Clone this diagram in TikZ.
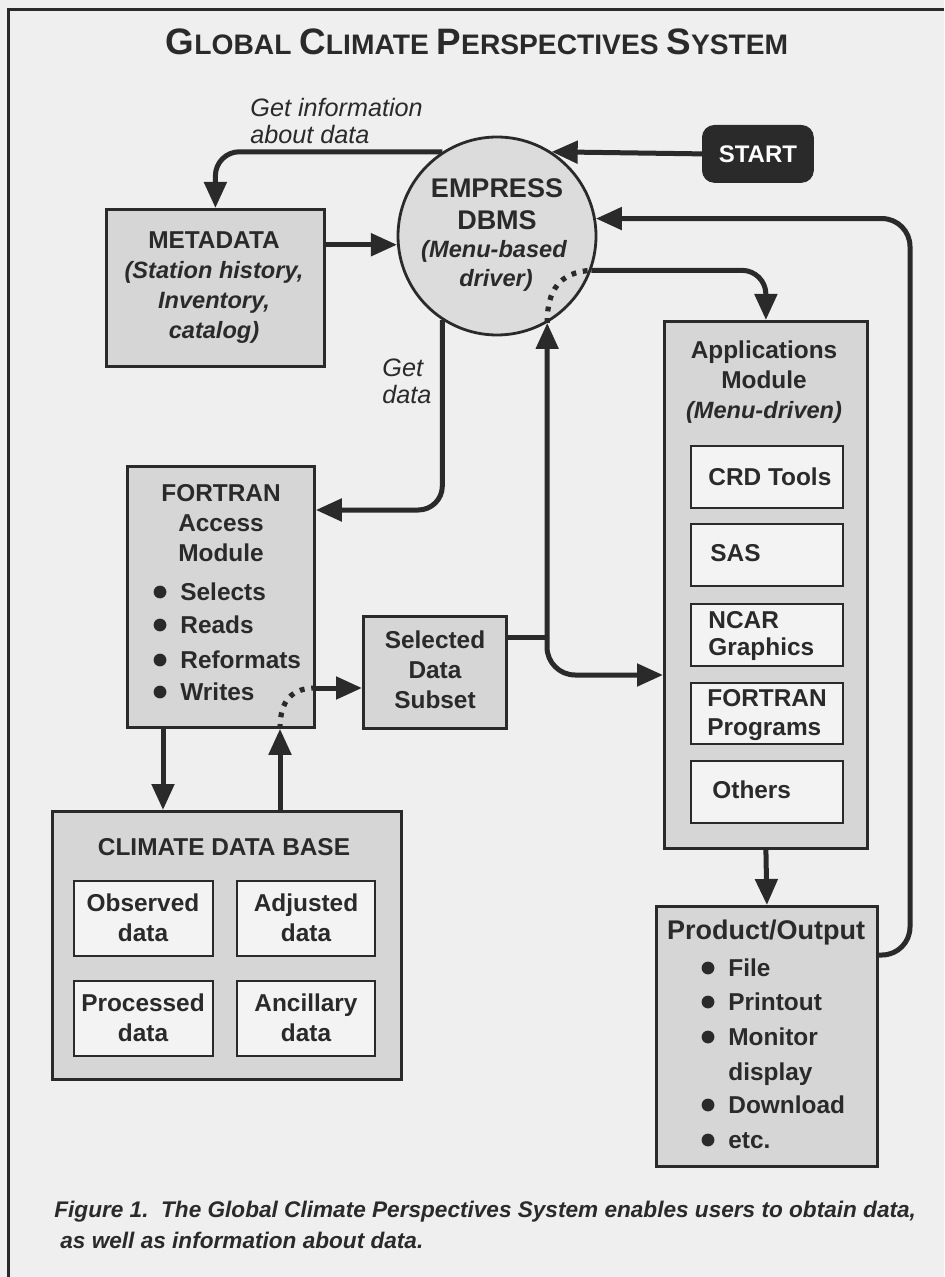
\documentclass[tikz,border=0pt]{standalone}
\usepackage{fontspec}
\setmainfont{Liberation Sans}
\usetikzlibrary{arrows.meta,calc}
\definecolor{paper}{HTML}{EFEFEF}
\definecolor{boxgray}{HTML}{D6D6D6}
\definecolor{circgray}{HTML}{DCDCDC}
\definecolor{ink}{HTML}{2A2A2A}
\definecolor{innerfill}{HTML}{F3F3F3}
\newcommand\tcap[2]{{\fontsize{18.4}{20}\selectfont #1}{\fontsize{14.1}{16}\selectfont #2}}
\begin{document}
\begin{tikzpicture}[x=0.5pt,y=-0.5pt,
  gbox/.style={draw=ink, fill=boxgray, line width=1.4pt, rectangle, inner sep=0pt, anchor=north west},
  ibox/.style={draw=ink, fill=innerfill, line width=1.2pt, rectangle, inner sep=0pt, anchor=north west},
  arr/.style={draw=ink, line width=2.5pt, -{Triangle[length=13pt,width=11pt]}},
  conn/.style={draw=ink, line width=2.5pt},
  dotline/.style={draw=ink, line width=2.6pt, dash pattern=on 2.4pt off 3.4pt},
  txt/.style={inner sep=0pt, text=ink, text height=8.8pt, text depth=0pt, font=\fontsize{12.2}{14}\selectfont\bfseries},
  bigtxt/.style={inner sep=0pt, text=ink, text height=9.7pt, text depth=0pt, font=\fontsize{13.5}{15}\selectfont\bfseries},
  itxt/.style={txt, font=\fontsize{11.8}{14}\selectfont\bfseries\itshape},
  ltxt/.style={inner sep=0pt, text=ink, text height=9pt, text depth=0pt, anchor=west, font=\fontsize{12.6}{14}\selectfont\itshape},
  captxt/.style={inner sep=0pt, text=ink, anchor=west, font=\fontsize{11.3}{13}\selectfont\bfseries\itshape},
  bul/.style={fill=ink}
]
\useasboundingbox (0,0) rectangle (944,1277);
\fill[paper] (0,0) rectangle (944,1277);
% frame
\draw[ink, line width=1.5pt] (8,1277) -- (8,10) -- (944,10);

% title
\node[inner sep=0pt, text=ink, font=\fontsize{14.1}{16}\selectfont\bfseries] (title) at (477,42) {\tcap{G}{LOBAL} \tcap{C}{LIMATE} \tcap{P}{ERSPECTIVES} \tcap{S}{YSTEM}};

% main shapes
\node[gbox, minimum width=109pt, minimum height=78.5pt] (meta) at (105,208) {};
\node[circle, draw=ink, fill=circgray, line width=1.4pt, minimum size=99pt, inner sep=0pt] (emp) at (497,236) {};
\node[rectangle, rounded corners=6pt, fill=ink, draw=ink, minimum width=55.5pt, minimum height=28.5pt, inner sep=0pt, anchor=north west, text=white, font=\fontsize{12}{14}\selectfont\bfseries] (start) at (702,125) {START};
\node[gbox, minimum width=93.5pt, minimum height=130.5pt] (fortran) at (126,465) {};
\node[gbox, minimum width=71.5pt, minimum height=56pt] (selected) at (362,615) {};
\node[gbox, minimum width=174.5pt, minimum height=134pt] (climate) at (51,810) {};
\node[ibox, minimum width=69.5pt, minimum height=37.5pt] (observed) at (73,880) {};
\node[ibox, minimum width=69pt, minimum height=37.5pt] (adjusted) at (236,880) {};
\node[ibox, minimum width=69.5pt, minimum height=37.5pt] (processed) at (73,980) {};
\node[ibox, minimum width=69pt, minimum height=37.5pt] (ancillary) at (236,980) {};
\node[gbox, minimum width=101.5pt, minimum height=263.5pt] (apps) at (663,320) {};
\node[ibox, minimum width=76pt, minimum height=31pt] (crd) at (690,445) {};
\node[ibox, minimum width=76pt, minimum height=31pt] (sas) at (690,523) {};
\node[ibox, minimum width=76pt, minimum height=31pt] (ncar) at (690,603) {};
\node[ibox, minimum width=76pt, minimum height=30.5pt] (fprog) at (690,682) {};
\node[ibox, minimum width=76pt, minimum height=31pt] (others) at (690,760) {};
\node[gbox, minimum width=110.5pt, minimum height=130pt] (product) at (655,905) {};

% texts: metadata
\node[txt] (t-meta1) at (214,240) {METADATA};
\node[itxt] (t-meta2) at (214,270) {(Station history,};
\node[itxt] (t-meta3) at (214,300) {Inventory,};
\node[itxt] (t-meta4) at (214,330) {catalog)};
% circle
\node[bigtxt] (t-emp1) at (497,188) {EMPRESS};
\node[bigtxt] (t-emp2) at (497,220) {DBMS};
\node[itxt] (t-emp3) at (494,249) {(Menu-based};
\node[itxt] (t-emp4) at (496,278) {driver)};
% fortran
\node[txt] (t-f1) at (221,493) {FORTRAN};
\node[txt] (t-f2) at (221,523) {Access};
\node[txt] (t-f3) at (221,553) {Module};
\node[txt, anchor=west] (t-f4) at (180,592) {Selects};
\node[txt, anchor=west] (t-f5) at (180,625) {Reads};
\node[txt, anchor=west] (t-f6) at (180,660) {Reformats};
\node[txt, anchor=west] (t-f7) at (180,692) {Writes};
\foreach \yy in {592,625,660,692} \fill[bul] (160,\yy) circle[radius=3.2pt];
% selected
\node[txt] (t-s1) at (435,640) {Selected};
\node[txt] (t-s2) at (435,670) {Data};
\node[txt] (t-s3) at (435,700) {Subset};
% climate
\node[txt] (t-c0) at (224,847) {CLIMATE DATA BASE};
\node[txt] (t-c1) at (143,903) {Observed};
\node[txt] (t-c2) at (143,933) {data};
\node[txt] (t-c3) at (306,903) {Adjusted};
\node[txt] (t-c4) at (306,933) {data};
\node[txt] (t-c5) at (143,1003) {Processed};
\node[txt] (t-c6) at (143,1033) {data};
\node[txt] (t-c7) at (306,1003) {Ancillary};
\node[txt] (t-c8) at (306,1033) {data};
% apps
\node[txt] (t-a1) at (764,350) {Applications};
\node[txt] (t-a2) at (764,380) {Module};
\node[itxt] (t-a3) at (764,410) {(Menu-driven)};
\node[txt, anchor=west] (t-a4) at (708,477) {CRD Tools};
\node[txt, anchor=west] (t-a5) at (710,553) {SAS};
\node[txt, anchor=west] (t-a6) at (708,620) {NCAR};
\node[txt, anchor=west] (t-a7) at (708,647) {Graphics};
\node[txt, anchor=west] (t-a8) at (707,698) {FORTRAN};
\node[txt, anchor=west] (t-a9) at (707,727) {Programs};
\node[txt, anchor=west] (t-a10) at (712,790) {Others};
% product
\node[bigtxt] (t-p0) at (766,930) {Product/Output};
\node[txt, anchor=west] (t-p1) at (728,968) {File};
\node[txt, anchor=west] (t-p2) at (728,1002) {Printout};
\node[txt, anchor=west] (t-p3) at (728,1037) {Monitor};
\node[txt, anchor=west] (t-p4) at (728,1072) {display};
\node[txt, anchor=west] (t-p5) at (728,1105) {Download};
\node[txt, anchor=west] (t-p6) at (728,1140) {etc.};
\foreach \yy in {968,1002,1037,1105,1140} \fill[bul] (708,\yy) circle[radius=3.2pt];
% labels
\node[ltxt] (l-gi1) at (250,108) {Get information};
\node[ltxt] (l-gi2) at (250,135) {about data};
\node[ltxt] (l-gd1) at (382,368) {Get};
\node[ltxt] (l-gd2) at (382,395) {data};
% caption
\node[captxt] (cap1) at (54,1212) {Figure 1.\ \ The Global Climate Perspectives System enables users to obtain data,};
\node[captxt] (cap2) at (60,1240) {as well as information about data.};

% connectors
\coordinate (r1) at (910,955);
\coordinate (gd) at (443,510);
\coordinate (xl) at (163,0);
\coordinate (xr) at (280,0);
\coordinate (wd) at (313,688);
\coordinate (jn) at (547,637);
\coordinate (ja) at (663,675);

\draw[arr] (start.west) -- (emp.57.5);
\draw[arr, rounded corners=12pt] (emp.123) -| (meta.north);
\draw[arr] (meta.east |- emp.185) -- (emp.185);
\draw[arr, rounded corners=14pt] (product.east |- r1) -- (r1) -- (r1 |- emp.10) -- (emp.10);
\draw[arr, rounded corners=12pt] (emp.-20) -| (apps.north);
\draw[arr, rounded corners=12pt] (emp.237) |- (fortran.east |- gd);
\draw[arr] (fortran.south -| xl) -- (climate.north -| xl);
\draw[arr] (climate.north -| xr) -- (fortran.south -| xr);
\draw[dotline] (fortran.south -| xr) .. controls (280,700) and (292,688) .. (fortran.east |- wd);
\draw[arr] (fortran.east |- wd) -- (selected.west |- wd);
\draw[conn] (selected.east |- jn) -- (jn);
\draw[arr] (jn) -- (emp.-60);
\draw[arr, rounded corners=14pt] (jn) |- (apps.west |- ja);
\draw[dotline] (emp.-60) .. controls (547,290) and (560,272) .. (emp.-20);
\draw[arr] (apps.south) -- (product.north);
\end{tikzpicture}
\end{document}
